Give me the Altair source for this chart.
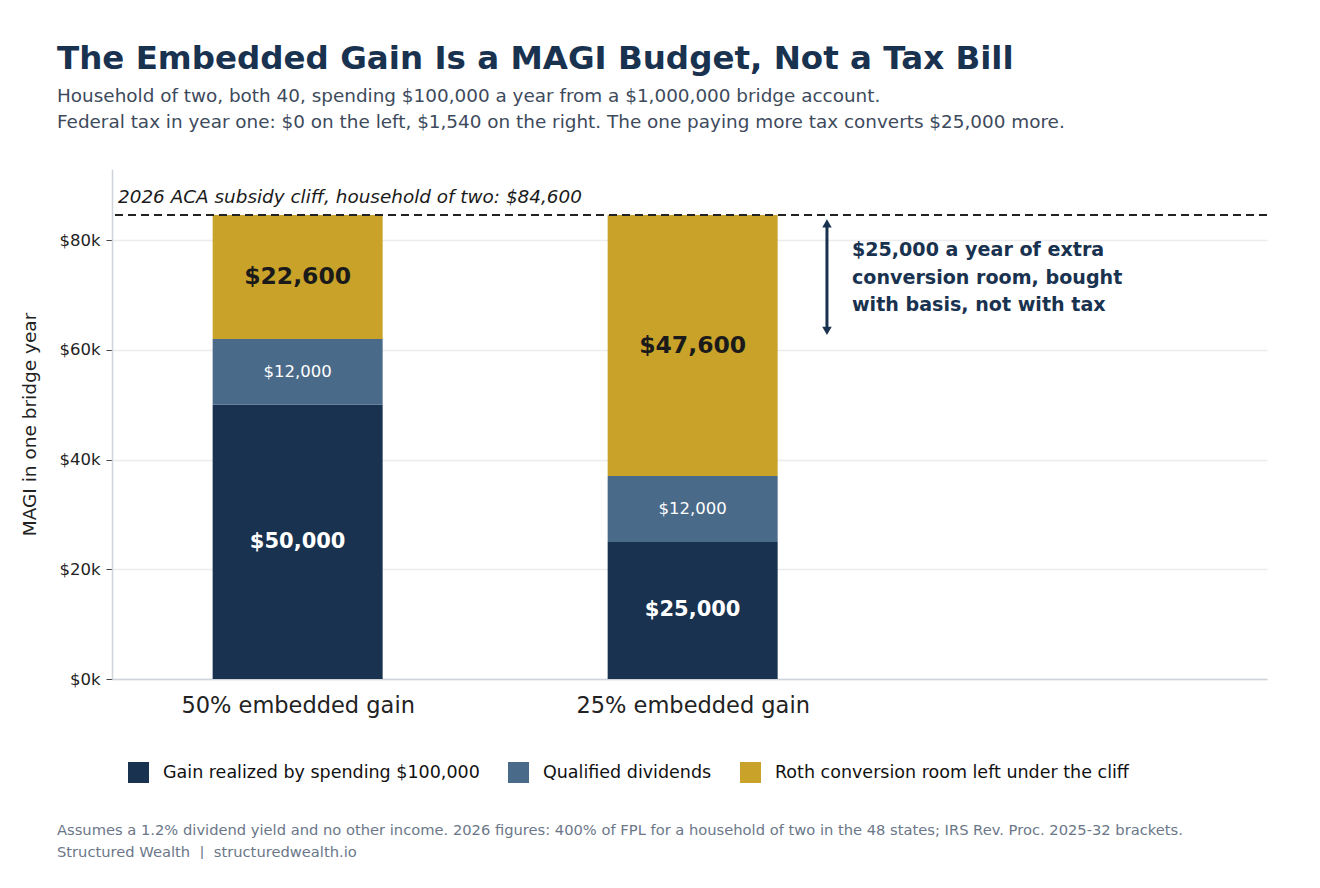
import altair as alt
import pandas as pd

# ---- data ----
scenarios = ["50% embedded gain", "25% embedded gain"]
positions = [0, 1]
components = ["Gain realized by spending $100,000", "Qualified dividends",
              "Roth conversion room left under the cliff"]
gain_values = [50000, 25000]
dividend_values = [12000, 12000]
room_values = [22600, 47600]
cliff_value = 84600
arrow_top = 84600
arrow_bottom = 62000
arrow_x = 1.34
y_ticks = [0, 20000, 40000, 60000, 80000]

NAVY = "#19324f"
MID = "#4a6a89"
GOLD = "#c9a229"
FONT = "DejaVu Sans"

rows = []
for pos, sc, g, d, r in zip(positions, scenarios, gain_values, dividend_values, room_values):
    for order, (comp, val) in enumerate(zip(components, [g, d, r])):
        rows.append({"pos": pos, "scenario": sc, "component": comp, "value": val, "order": order})
df = pd.DataFrame(rows)

label_expr = " : ".join(
    [f"datum.value == {p} ? '{s}'" for p, s in zip(positions, scenarios)] + ["''"]
)

x_scale = alt.Scale(domain=[-0.47, 2.454], nice=False, zero=False, padding=0)
y_scale = alt.Scale(domain=[0, 93000], nice=False)

base = alt.Chart(df).transform_stack(
    stack="value", groupby=["pos"], as_=["y0", "y1"], sort=[alt.SortField("order")]
).transform_calculate(
    mid="(datum.y0 + datum.y1) / 2",
    label="'$' + format(datum.value, ',')"
)

bars = base.mark_bar(size=170).encode(
    x=alt.X("pos:Q", scale=x_scale,
            axis=alt.Axis(values=positions, labelExpr=label_expr, title=None, grid=False,
                          ticks=False, labelFontSize=22.5, labelColor="#222222", labelPadding=15,
                          domainColor="#cfd3da", labelFont=FONT, labelFlush=False, labelLimit=400)),
    y=alt.Y("y0:Q", scale=y_scale,
            axis=alt.Axis(values=y_ticks, labelExpr="'$' + format(datum.value/1000, 'd') + 'k'",
                          title="MAGI in one bridge year", titleFontSize=18.5, titleFontWeight="normal",
                          titleColor="#222222", titlePadding=19, labelFontSize=16.5, labelColor="#222222",
                          labelPadding=6, tickSize=6, tickColor="#444444", domainColor="#cfd3da",
                          gridColor="#ebebf0", gridWidth=1.5, labelFont=FONT, titleFont=FONT)),
    y2="y1:Q",
    color=alt.Color("component:N", scale=alt.Scale(domain=components, range=[NAVY, MID, GOLD]),
                    legend=alt.Legend(orient="none", legendX=16, legendY=593, direction="horizontal",
                                      title=None, symbolType="square", symbolSize=441,
                                      symbolStrokeWidth=0, labelFontSize=17.5, labelColor="#111111",
                                      labelFont=FONT, columnPadding=28, labelOffset=14,
                                      labelLimit=500)),
    order=alt.Order("order:Q"),
)

def seg_labels(order, size, weight, color):
    return base.transform_filter(f"datum.order == {order}").mark_text(
        fontSize=size, fontWeight=weight, color=color, font=FONT, baseline="middle"
    ).encode(x="pos:Q", y="mid:Q", text="label:N")

lab_gain = seg_labels(0, 21, "bold", "white")
lab_div = seg_labels(1, 16.5, "normal", "white")
lab_room = seg_labels(2, 23.5, "bold", "#1a1a1a")

cliff_df = pd.DataFrame({"y": [cliff_value],
                         "txt": ["2026 ACA subsidy cliff, household of two: $84,600"]})
cliff = alt.Chart(cliff_df).mark_rule(strokeDash=[8, 5], strokeWidth=2, color="#222222").encode(
    y=alt.Y("y:Q", scale=y_scale))
cliff_txt = alt.Chart(cliff_df).mark_text(
    align="left", baseline="middle", fontSize=18.4, fontStyle="italic", color="#1a1a1a", font=FONT,
    dx=6, dy=-18
).encode(x=alt.value(0), y=alt.Y("y:Q", scale=y_scale), text="txt:N")

arrow_df = pd.DataFrame({"x": [arrow_x], "y": [arrow_top - 1800], "y2": [arrow_bottom + 1800]})
arrow_line = alt.Chart(arrow_df).mark_rule(strokeWidth=3, color=NAVY).encode(
    x=alt.X("x:Q", scale=x_scale), y=alt.Y("y:Q", scale=y_scale), y2="y2:Q")
heads_df = pd.DataFrame({"x": [arrow_x, arrow_x], "y": [arrow_top - 1500, arrow_bottom + 1500],
                         "shape": ["triangle-up", "triangle-down"]})
arrow_heads = alt.Chart(heads_df).mark_point(filled=True, size=90, color=NAVY, opacity=1).encode(
    x=alt.X("x:Q", scale=x_scale), y=alt.Y("y:Q", scale=y_scale),
    shape=alt.Shape("shape:N", scale=None))

note_df = pd.DataFrame({"x": [arrow_x], "y": [arrow_top],
                        "txt": ["$25,000 a year of extra\nconversion room, bought\nwith basis, not with tax"]})
note = alt.Chart(note_df).mark_text(
    align="left", baseline="middle", fontSize=19.1, fontWeight="bold", color=NAVY, font=FONT,
    lineBreak="\n", lineHeight=27.5, dx=25, dy=35
).encode(x=alt.X("x:Q", scale=x_scale), y=alt.Y("y:Q", scale=y_scale), text="txt:N")

foot_df = pd.DataFrame({"txt": [
    "Assumes a 1.2% dividend yield and no other income. 2026 figures: 400% of FPL for a household of two in the 48 states; IRS Rev. Proc. 2025-32 brackets.\nStructured Wealth\u00a0 |\u00a0 structuredwealth.io"]})
foot = alt.Chart(foot_df).mark_text(
    align="left", baseline="middle", fontSize=14.7, color="#6b7789", font=FONT,
    lineBreak="\n", lineHeight=22
).encode(x=alt.value(-55), y=alt.value(662), text="txt:N")

chart = alt.layer(
    bars, lab_gain, lab_div, lab_room, cliff, cliff_txt, arrow_line, arrow_heads, note, foot
).properties(
    width=1155, height=510,
    title=alt.TitleParams(
        text="The Embedded Gain Is a MAGI Budget, Not a Tax Bill",
        subtitle=["Household of two, both 40, spending $100,000 a year from a $1,000,000 bridge account.",
                  "Federal tax in year one: $0 on the left, $1,540 on the right. The one paying more tax converts $25,000 more."],
        anchor="start", dx=-55, fontSize=32.5, fontWeight="bold", color="#19324f", font=FONT,
        subtitleFont=FONT, subtitleFontSize=18.4, subtitleColor="#3d4a5c", subtitleLineHeight=26,
        subtitlePadding=11, offset=38, frame="group"
    ),
    autosize=alt.AutoSizeParams(type="none"),
    padding={"left": 104, "top": 161, "right": 40, "bottom": 180},
).configure_view(stroke=None).configure_axisX(domainWidth=1.5).configure_axisY(domainWidth=1.5)

chart.save("out.html", embed_options={"renderer": "svg", "actions": False})
